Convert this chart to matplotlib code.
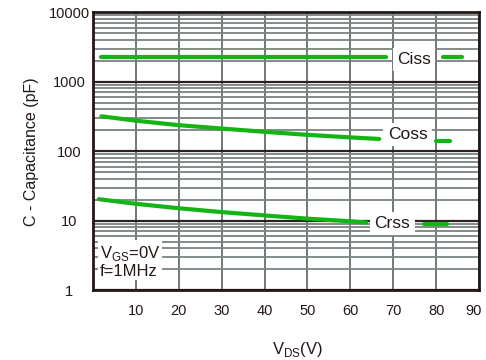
import matplotlib.pyplot as plt
import matplotlib.transforms as mtransforms
import numpy as np

# Capacitance vs drain-source voltage
ciss_v = [2, 10, 20, 30, 40, 50, 60, 68.4]
ciss_pf = [2300, 2300, 2300, 2300, 2300, 2300, 2300, 2300]
ciss_tail_v = [81.6, 86]
ciss_tail_pf = [2300, 2300]

coss_v = [2, 10, 20, 30, 40, 50, 60, 66.7]
coss_pf = [318, 275, 237, 212, 190, 172, 158, 150]
coss_tail_v = [80, 83.3]
coss_tail_pf = [140, 140]

crss_v = [1.4, 10, 20, 30, 40, 50, 60, 63.7]
crss_pf = [20.4, 17.5, 15.1, 13.3, 11.9, 10.7, 9.8, 9.4]
crss_tail_v = [77.2, 82.6]
crss_tail_pf = [8.9, 8.9]

xticks = [10, 20, 30, 40, 50, 60, 70, 80, 90]
yticks = [1, 10, 100, 1000, 10000]

green = '#14b414'
ink = '#231815'
plt.rcParams['font.family'] = ['Liberation Sans', 'DejaVu Sans']

fig = plt.figure(figsize=(4.86, 3.6), dpi=100)
ax = fig.add_axes([0.191, 0.194, 0.795, 0.772])
ax.set_yscale('log')
ax.set_xlim(0, 90)
ax.set_ylim(1, 10000)

# grid
ax.set_xticks(xticks)
ax.set_xticklabels([str(t) for t in xticks], fontsize=10.5, color=ink)
ax.set_yticks(yticks)
ax.set_yticklabels([str(t) for t in yticks], fontsize=10.5, color=ink, ha='center')
ax.tick_params(axis='x', length=0, pad=10)
ax.tick_params(axis='y', length=0, pad=17)
ax.xaxis.grid(True, color='#6e7a78', linewidth=1.4)
ax.yaxis.grid(True, which='major', color='#2a2220', linewidth=1.6)
ax.yaxis.grid(True, which='minor', color='#7a8482', linewidth=1.3)
ax.tick_params(which='minor', length=0)
ax.yaxis.set_minor_formatter(plt.NullFormatter())
ax.set_axisbelow(True)
for s in ax.spines.values():
    s.set_linewidth(2)
    s.set_color(ink)

# last x label sits just inside the figure edge
last = ax.get_xticklabels()[-1]
last.set_ha('right')
last.set_transform(last.get_transform() +
                   mtransforms.ScaledTranslation(3 / 100, 0, fig.dpi_scale_trans))

for v, c in [(ciss_v, ciss_pf), (ciss_tail_v, ciss_tail_pf),
             (coss_v, coss_pf), (coss_tail_v, coss_tail_pf),
             (crss_v, crss_pf), (crss_tail_v, crss_tail_pf)]:
    ax.plot(v, c, color=green, linewidth=3, solid_capstyle='round')

box = dict(facecolor='white', edgecolor='none', pad=3)
ax.text(74.9, 2100, 'Ciss', fontsize=12.5, ha='center', va='center', color=ink, bbox=box)
ax.text(73.3, 175, 'Coss', fontsize=12.5, ha='center', va='center', color=ink, bbox=box)
ax.text(69.8, 9.2, 'Crss', fontsize=12.5, ha='center', va='center', color=ink, bbox=box)

ax.text(1.6, 2.6, r'V$_{\mathregular{GS}}$=0V' + '\nf=1MHz', fontsize=12, ha='left',
        va='center', color=ink, linespacing=1.1,
        bbox=dict(facecolor='white', edgecolor='none', pad=1))

ax.set_ylabel('C - Capacitance (pF)', fontsize=11.5, color=ink)
ax.yaxis.set_label_coords(-0.14, 0.5)
ax.set_xlabel(r'V$_{\mathregular{DS}}$(V)', fontsize=12, color=ink, va='center')
ax.xaxis.set_label_coords(0.53, -0.215)

fig.savefig('out.png', dpi=100, facecolor='white')
